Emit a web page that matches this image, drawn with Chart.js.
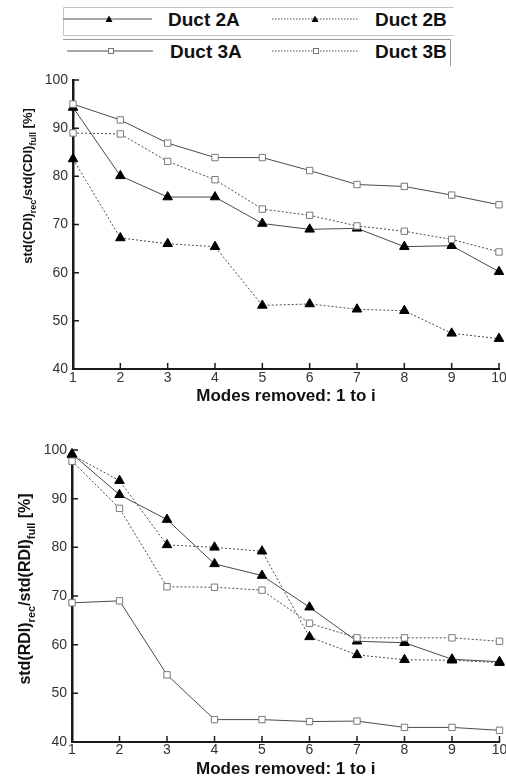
<!DOCTYPE html>
<html>
<head>
<meta charset="utf-8">
<script src="https://cdn.jsdelivr.net/npm/chart.js@4"></script>
<style>
  html, body { margin: 0; padding: 0; background: #fff; }
  #page { position: relative; width: 506px; height: 782px; overflow: hidden; }
  #legend { position: absolute; left: 0; top: 0; }
  canvas { position: absolute; left: 0; }
</style>
</head>
<body>
<div id="page">
  <svg id="legend" width="506" height="70" xmlns="http://www.w3.org/2000/svg"></svg>
  <canvas id="cdiChart" style="top:68px"></canvas>
  <canvas id="rdiChart" style="top:420px"></canvas>
</div>
<script>
/* global Chart */

const modes  = [1, 2, 3, 4, 5, 6, 7, 8, 9, 10];
const yTicks = [40, 50, 60, 70, 80, 90, 100];

// std(CDI)rec / std(CDI)full [%]
const cdi2A = [94.3, 80.1, 75.7, 75.7, 70.2, 69.0, 69.2, 65.4, 65.6, 60.2];
const cdi2B = [83.6, 67.2, 66.0, 65.4, 53.2, 53.5, 52.4, 52.1, 47.4, 46.3];
const cdi3A = [95.0, 91.7, 86.9, 83.9, 83.9, 81.2, 78.3, 77.9, 76.1, 74.1];
const cdi3B = [89.0, 88.8, 83.1, 79.3, 73.2, 71.9, 69.7, 68.6, 66.9, 64.3];

// std(RDI)rec / std(RDI)full [%]
const rdi2A = [99.2, 90.8, 85.7, 76.6, 74.2, 67.7, 60.7, 60.4, 57.0, 56.5];
const rdi2B = [99.0, 93.7, 80.5, 80.0, 79.2, 61.6, 57.9, 56.9, 56.8, 56.3];
const rdi3A = [68.6, 69.0, 53.8, 44.6, 44.6, 44.2, 44.3, 43.0, 43.0, 42.4];
const rdi3B = [97.7, 88.0, 71.9, 71.8, 71.2, 64.4, 61.4, 61.4, 61.4, 60.7];

const SERIES = {
    '2A': { label: 'Duct 2A', marker: 'triangle', dash: [] },
    '2B': { label: 'Duct 2B', marker: 'triangle', dash: [2, 2] },
    '3A': { label: 'Duct 3A', marker: 'rect',     dash: [] },
    '3B': { label: 'Duct 3B', marker: 'rect',     dash: [2, 2] },
};

const FONT = "'Liberation Sans', Arial, sans-serif";

// ---------------------------------------------------------------------------
// Legend (two framed rows at the top)
// ---------------------------------------------------------------------------

function buildLegend() {
    const svg = document.getElementById('legend');
    const rows = [
        { y: 19, base: 26,   items: [['2A', 63, 152, 109, 168], ['2B', 272, 358, 315, 375]] },
        { y: 51, base: 57.5, items: [['3A', 67, 153, 111, 170], ['3B', 272, 358, 316, 375]] },
    ];
    let out = '';
    // frames
    out += '<polyline points="453.5,7.5 63.5,7.5 63.5,35.5 453.5,35.5" fill="none" stroke="#c4c4c4" stroke-width="1"/>';
    out += '<polyline points="63,39.5 450.5,39.5 450.5,66" fill="none" stroke="#9a9a9a" stroke-width="1"/>';
    rows.forEach(r => {
        r.items.forEach(([key, x0, x1, mx, tx]) => {
            const s = SERIES[key];
            const dash = s.dash.length ? ' stroke-dasharray="1.5,1.5"' : '';
            out += `<line x1="${x0}" y1="${r.y}" x2="${x1}" y2="${r.y}" stroke="#8a8a8a" stroke-width="1.3"${dash}/>`;
            if (s.marker === 'triangle') {
                out += `<polygon points="${mx - 3.5},${r.y + 3} ${mx + 3.5},${r.y + 3} ${mx},${r.y - 3.5}" fill="#000"/>`;
            } else {
                out += `<rect x="${mx - 2.5}" y="${r.y - 2.5}" width="5" height="5" fill="#fff" stroke="#777" stroke-width="1"/>`;
            }
            out += `<text x="${tx}" y="${r.base}" font-family="${FONT.replace(/'/g, '')}" font-weight="bold" font-size="19" fill="#111">${s.label}</text>`;
        });
    });
    svg.innerHTML = out;
}

// ---------------------------------------------------------------------------
// Plugins: inward tick marks, rotated y title with subscripts
// ---------------------------------------------------------------------------

const inwardTicks = {
    id: 'inwardTicks',
    afterDatasetsDraw(chart) {
        const { ctx, chartArea, scales: { x, y } } = chart;
        ctx.save();
        ctx.strokeStyle = '#1a1a1a';
        ctx.lineWidth = 1.5;
        ctx.beginPath();
        x.ticks.forEach((t, i) => {
            const px = x.getPixelForTick(i);
            ctx.moveTo(px, chartArea.bottom);
            ctx.lineTo(px, chartArea.bottom - 6);
        });
        y.ticks.forEach((t, i) => {
            const py = y.getPixelForTick(i);
            ctx.moveTo(chartArea.left, py);
            ctx.lineTo(chartArea.left + 6, py);
        });
        ctx.stroke();
        ctx.restore();
    },
};

const yTitle = {
    id: 'yTitle',
    afterDraw(chart, args, opts) {
        const { ctx } = chart;
        const big = `bold ${opts.size}px ${FONT}`;
        const small = `bold ${Math.round(opts.size * 0.68)}px ${FONT}`;
        const parts = opts.parts;
        let total = 0;
        parts.forEach(([txt, sub]) => {
            ctx.font = sub ? small : big;
            total += ctx.measureText(txt).width;
        });
        ctx.save();
        ctx.translate(opts.x, opts.y);
        ctx.rotate(-Math.PI / 2);
        ctx.fillStyle = '#111';
        ctx.textBaseline = 'alphabetic';
        let cx = -total / 2;
        const base = opts.size * 0.36;
        parts.forEach(([txt, sub]) => {
            ctx.font = sub ? small : big;
            ctx.fillText(txt, cx, sub ? base + opts.size * 0.3 : base);
            cx += ctx.measureText(txt).width;
        });
        ctx.restore();
    },
};

// ---------------------------------------------------------------------------
// Charts
// ---------------------------------------------------------------------------

function datasetsFor(values) {
    // draw squares first so the triangles sit on top
    return ['3A', '3B', '2A', '2B'].map(key => {
        const s = SERIES[key];
        const tri = s.marker === 'triangle';
        return {
            label:            s.label,
            data:             values[key],
            borderColor:      '#4a4a4a',
            borderWidth:      1,
            borderDash:       s.dash,
            pointStyle:       s.marker,
            pointRadius:      tri ? 5.5 : 4.5,
            pointBackgroundColor: tri ? '#000' : '#fff',
            pointBorderColor: tri ? '#000' : '#7a7a7a',
            pointBorderWidth: 1,
            tension:          0,
            clip:             false,
        };
    });
}

function makeChart(id, values, cfg) {
    const el = document.getElementById(id);
    el.width = 506;
    el.height = cfg.height;
    el.style.width = '506px';
    el.style.height = cfg.height + 'px';
    return new Chart(el.getContext('2d'), {
        type: 'line',
        data: { labels: modes, datasets: datasetsFor(values) },
        plugins: [inwardTicks, yTitle],
        options: {
            responsive: false,
            animation: false,
            events: [],
            layout: { padding: { top: cfg.top, right: cfg.right, left: 0, bottom: 0 } },
            plugins: {
                legend: { display: false },
                tooltip: { enabled: false },
                yTitle: { parts: cfg.yParts, size: cfg.ySize, x: cfg.yX, y: cfg.yY },
            },
            scales: {
                x: {
                    type: 'category',
                    offset: false,
                    grid:   { display: false, drawTicks: false },
                    border: { display: true, width: 2, color: '#1a1a1a' },
                    ticks:  { color: '#333', padding: cfg.xPad, maxRotation: 0, autoSkip: false,
                              font: { family: FONT, size: 14 } },
                    title:  { display: true, text: 'Modes removed: 1 to i', color: '#111',
                              padding: { top: 0, bottom: cfg.titlePad },
                              font: { family: FONT, size: 17, weight: 'bold' } },
                    afterFit(scale) {
                        scale.height = cfg.xHeight;
                        scale.paddingLeft = 0;
                        scale.paddingRight = 0;
                    },
                },
                y: {
                    min: 40,
                    max: 100,
                    grid:   { display: false, drawTicks: false },
                    border: { display: true, width: 2.5, color: '#1a1a1a' },
                    afterBuildTicks(scale) { scale.ticks = yTicks.map(v => ({ value: v })); },
                    ticks:  { color: '#333', padding: 5, font: { family: FONT, size: 14 } },
                    afterFit(scale) {
                        scale.width = cfg.left;
                        scale.paddingTop = 0;
                        scale.paddingBottom = 0;
                    },
                },
            },
        },
    });
}

buildLegend();

makeChart('cdiChart', { '2A': cdi2A, '2B': cdi2B, '3A': cdi3A, '3B': cdi3B }, {
    height: 342, top: 12, right: 7, left: 73, xHeight: 41, xPad: 1, titlePad: 3,
    ySize: 13, yX: 27, yY: 118,
    yParts: [['std(CDI)', false], ['rec', true], ['/std(CDI)', false], ['full', true], [' [%]', false]],
});

makeChart('rdiChart', { '2A': rdi2A, '2B': rdi2B, '3A': rdi3A, '3B': rdi3B }, {
    height: 362, top: 30, right: 4, left: 72, xHeight: 40, xPad: 0, titlePad: 2,
    ySize: 16, yX: 24, yY: 169,
    yParts: [['std(RDI)', false], ['rec', true], ['/std(RDI)', false], ['full', true], [' [%]', false]],
});
</script>
</body>
</html>
